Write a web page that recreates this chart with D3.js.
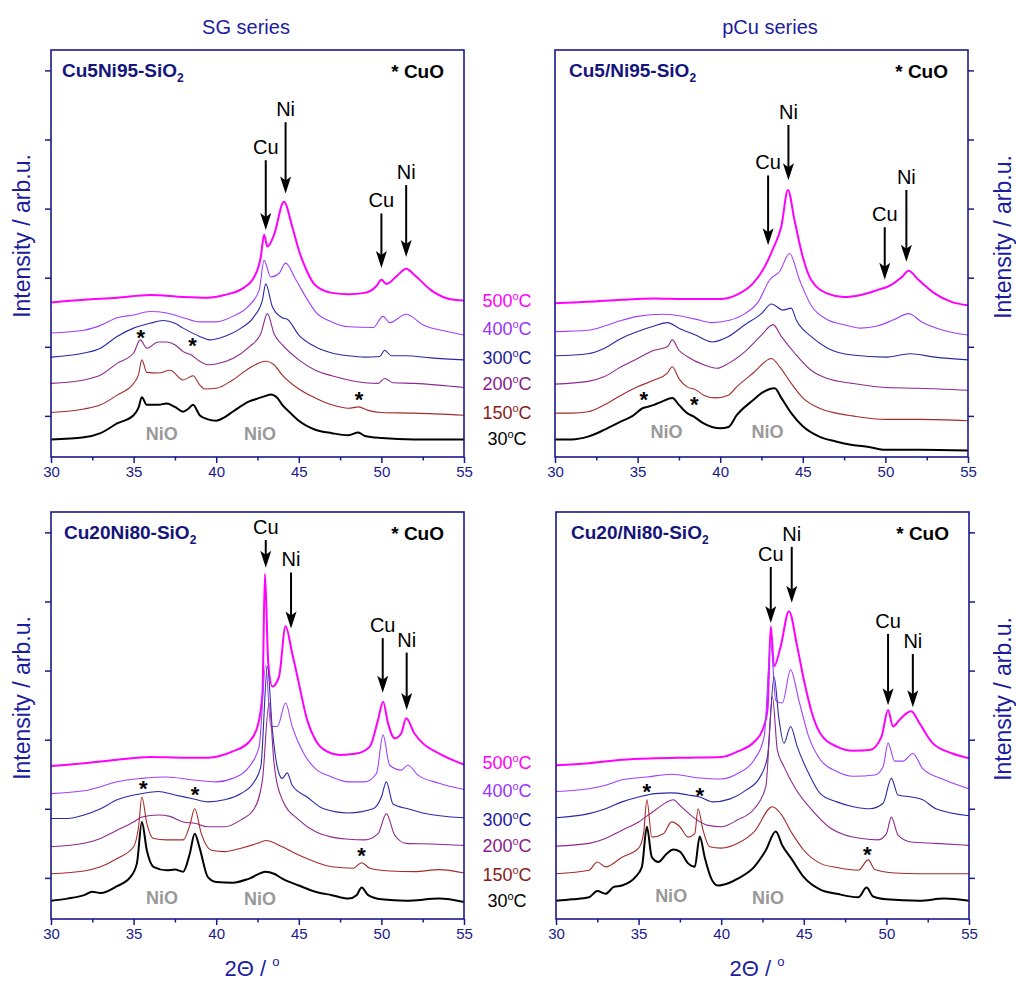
<!DOCTYPE html>
<html>
<head>
<meta charset="utf-8">
<script src="https://cdn.jsdelivr.net/npm/d3@7"></script>
<style>
  body { margin: 0; background: #fff; }
  svg { display: block; font-family: "Liberation Sans", Arial, sans-serif; }
</style>
</head>
<body>
<svg id="chart" width="1016" height="983"></svg>
<script>
// tick values
const xTicks = [30, 35, 40, 45, 50, 55];
const xMinor = [32.5, 37.5, 42.5, 47.5, 52.5];
const yTicks = [1, 2, 3, 4, 5, 6];
const temps = ["500", "400", "300", "200", "150", "30"];
const tempLabelY = [2.67, 2.26, 1.85, 1.47, 1.05, 0.67];

// SG series, Cu5Ni95-SiO2
const sg5_30 = [[30,0.66],[32,0.69],[33,0.75],[34,0.89],[35,1.01],[35.3,1.12],[35.5,1.27],[35.8,1.16],[36.5,1.16],[37,1.18],[37.5,1.13],[38,1.06],[38.3,1.10],[38.6,1.16],[39,1.01],[39.5,0.95],[40,0.93],[40.5,0.98],[41,1.06],[42,1.21],[42.5,1.25],[43,1.29],[43.3,1.31],[43.7,1.26],[44,1.16],[44.5,1.04],[45,0.93],[46,0.80],[47,0.75],[48,0.72],[48.6,0.76],[49,0.71],[50,0.68],[52,0.66],[55,0.66]];
const sg5_150 = [[30,1.05],[32,1.10],[33,1.16],[34,1.30],[35,1.47],[35.3,1.60],[35.5,1.81],[35.8,1.63],[36.5,1.62],[37.2,1.66],[38,1.52],[38.6,1.58],[39,1.45],[39.3,1.39],[40,1.40],[41,1.52],[42,1.69],[43,1.79],[43.5,1.74],[44,1.59],[45,1.39],[46,1.26],[47,1.16],[48,1.11],[48.6,1.13],[49.2,1.08],[50,1.05],[52,1.04],[55,1.01]];
const sg5_200 = [[30,1.47],[32,1.52],[33,1.59],[34,1.76],[35,1.91],[35.4,2.10],[35.8,1.98],[36.5,2.07],[37,2.07],[37.5,2.03],[38,1.93],[38.5,1.88],[39,1.79],[39.5,1.74],[40,1.75],[41,1.83],[42,2.00],[42.7,2.19],[43.1,2.48],[43.5,2.19],[44,2.03],[45,1.81],[46,1.66],[47,1.58],[48,1.52],[49,1.48],[49.8,1.47],[50.2,1.54],[50.7,1.48],[52,1.47],[55,1.41]];
const sg5_300 = [[30,1.85],[32,1.91],[33,1.98],[34,2.15],[35,2.27],[36,2.34],[36.8,2.38],[37.5,2.34],[38,2.27],[39,2.15],[39.6,2.10],[40.5,2.15],[41.5,2.27],[42.3,2.44],[42.8,2.68],[43.0,2.91],[43.4,2.58],[44,2.42],[44.3,2.40],[45,2.17],[46,2.00],[47,1.91],[48,1.87],[49,1.85],[49.9,1.86],[50.2,1.95],[50.6,1.87],[51.5,1.87],[53,1.84],[55,1.81]];
const sg5_400 = [[30,2.20],[32,2.24],[33,2.31],[34,2.42],[35,2.46],[36,2.51],[37,2.49],[38,2.42],[39,2.36],[40,2.36],[41,2.44],[42,2.60],[42.6,2.82],[42.9,3.25],[43.3,3.01],[43.8,3.06],[44.2,3.21],[44.8,2.98],[45.5,2.69],[46,2.51],[47,2.36],[48,2.29],[49.5,2.28],[50.1,2.44],[50.5,2.35],[51.5,2.47],[52.5,2.32],[54,2.22],[55,2.17]];
const sg5_500 = [[30,2.64],[32,2.68],[34,2.71],[36,2.75],[38,2.72],[39.5,2.71],[40.5,2.75],[41.5,2.83],[42.3,3.01],[42.7,3.30],[42.9,3.62],[43.1,3.45],[43.5,3.62],[44.1,4.10],[44.6,3.74],[45,3.40],[45.5,3.09],[46,2.89],[47,2.78],[48,2.76],[49,2.78],[49.7,2.88],[50.0,2.97],[50.3,2.91],[51,3.04],[51.5,3.13],[52,3.04],[53,2.82],[54,2.70],[55,2.67]];

// pCu series, Cu5/Ni95-SiO2
const pcu5_30 = [[30,0.66],[31,0.66],[32,0.70],[33,0.80],[34,0.92],[34.7,1.00],[35.3,1.11],[35.6,1.13],[36,1.16],[36.5,1.21],[37.1,1.26],[37.5,1.16],[38,1.04],[38.4,0.99],[39,0.89],[39.5,0.84],[40,0.82],[40.5,0.84],[41,1.01],[42,1.23],[42.5,1.33],[43.3,1.40],[43.7,1.26],[44.3,1.04],[45,0.85],[46,0.70],[47,0.63],[48,0.58],[49,0.55],[50,0.51],[52,0.51],[55,0.50]];
const pcu5_150 = [[30,1.04],[31,1.04],[32,1.06],[33,1.16],[34,1.30],[35,1.42],[36,1.52],[36.8,1.62],[37.1,1.71],[37.5,1.54],[38,1.42],[38.5,1.38],[39,1.30],[39.7,1.26],[40.5,1.30],[41,1.42],[42,1.62],[43.1,1.83],[43.6,1.71],[44.3,1.47],[45,1.26],[46,1.11],[47,1.04],[48,1.00],[50,0.95],[52,0.95],[55,0.93]];
const pcu5_200 = [[30,1.46],[32,1.50],[33,1.57],[34,1.71],[35,1.83],[36,1.95],[36.8,2.00],[37.1,2.10],[37.5,1.95],[38,1.86],[39,1.74],[39.8,1.69],[40.5,1.76],[41.5,1.93],[42.5,2.17],[43.2,2.32],[43.7,2.15],[44.5,1.91],[45.5,1.66],[46.5,1.54],[48,1.47],[50,1.41],[52,1.40],[55,1.37]];
const pcu5_300 = [[30,1.87],[32,1.90],[33,1.98],[34,2.12],[35,2.22],[36,2.30],[36.8,2.35],[37.5,2.27],[38.5,2.17],[39.5,2.07],[40.5,2.15],[41.5,2.32],[42.5,2.48],[43.1,2.62],[43.8,2.53],[44.3,2.56],[44.6,2.39],[45.5,2.15],[46.5,1.98],[48,1.88],[50,1.85],[51.5,1.90],[53,1.85],[55,1.81]];
const pcu5_400 = [[30,2.22],[32,2.24],[33,2.30],[34,2.38],[35,2.44],[36.5,2.47],[37.5,2.45],[38.5,2.40],[39.5,2.35],[40.5,2.38],[41.5,2.48],[42.3,2.65],[43,2.97],[43.6,3.09],[44.2,3.35],[44.8,2.97],[45.5,2.60],[46.5,2.39],[47.5,2.32],[48.5,2.27],[49.5,2.30],[50.5,2.39],[51.4,2.48],[52.2,2.36],[53.5,2.24],[55,2.17]];
const pcu5_500 = [[30,2.63],[32,2.65],[34,2.68],[36,2.70],[38,2.69],[40,2.69],[41,2.75],[42,2.92],[42.7,3.16],[43.2,3.42],[43.7,3.74],[44.1,4.27],[44.5,3.83],[45,3.30],[45.5,2.97],[46.5,2.77],[47.5,2.72],[48.5,2.75],[49.5,2.82],[50.3,2.89],[51,3.01],[51.4,3.10],[52,2.97],[53,2.77],[54,2.65],[55,2.60]];

// SG series, Cu20Ni80-SiO2
const sg20_30 = [[30,0.67],[31,0.70],[32,0.75],[32.5,0.80],[33,0.78],[34,0.88],[34.8,1.01],[35.2,1.21],[35.5,1.81],[35.8,1.40],[36.2,1.16],[37,1.11],[37.5,1.12],[38,1.09],[38.4,1.35],[38.7,1.64],[39,1.43],[39.5,1.01],[40,0.94],[41,0.93],[42,0.99],[43,1.09],[43.5,1.06],[44,0.99],[45,0.89],[46,0.80],[47,0.75],[48,0.70],[48.5,0.75],[48.8,0.86],[49.2,0.75],[50,0.69],[51.5,0.67],[53.5,0.70],[55,0.65]];
const sg20_150 = [[30,1.06],[32,1.10],[33,1.16],[34,1.28],[35,1.45],[35.3,1.74],[35.5,2.17],[35.8,1.79],[36.2,1.57],[37,1.55],[38,1.55],[38.4,1.76],[38.7,2.00],[39.1,1.64],[39.7,1.40],[40.5,1.38],[41.5,1.43],[42.5,1.50],[43,1.54],[44,1.45],[45,1.33],[46,1.23],[47,1.16],[48.3,1.14],[48.8,1.22],[49.3,1.14],[50.5,1.10],[52,1.09],[53.5,1.12],[55,1.07]];
const sg20_200 = [[30,1.45],[32,1.50],[33,1.57],[34,1.69],[35,1.81],[35.5,1.88],[36.5,1.91],[37.2,1.89],[38,1.81],[38.7,1.79],[39.5,1.74],[40.5,1.74],[41.5,1.84],[42.3,2.00],[42.8,2.42],[43.2,3.53],[43.5,2.66],[44,2.13],[45,1.84],[46,1.67],[47,1.59],[48,1.56],[49,1.55],[49.8,1.64],[50.3,1.93],[50.8,1.62],[51.5,1.50],[53,1.49],[55,1.47]];
const sg20_300 = [[30,1.86],[31,1.86],[32,1.91],[33,2.00],[34,2.13],[35.5,2.22],[36.5,2.25],[37.5,2.20],[38.5,2.15],[39.5,2.10],[40.5,2.13],[41.5,2.22],[42.3,2.39],[42.7,2.61],[43.1,4.06],[43.4,3.14],[43.8,2.51],[44.0,2.44],[44.3,2.52],[44.6,2.34],[45.5,2.17],[46.5,2.00],[48,1.94],[49.5,2.00],[50.0,2.17],[50.3,2.39],[50.7,2.07],[51.6,2.00],[52.5,1.94],[55,1.87]];
const sg20_400 = [[30,2.22],[32,2.26],[33,2.32],[34,2.39],[35.5,2.44],[37,2.46],[38.5,2.42],[40,2.39],[41,2.44],[42,2.61],[42.6,2.90],[43.0,4.08],[43.3,3.19],[43.7,3.19],[44.2,3.53],[44.6,3.19],[45.3,2.80],[46,2.58],[47,2.46],[48,2.39],[49,2.39],[49.7,2.51],[50.1,3.07],[50.5,2.63],[51.2,2.56],[51.6,2.63],[52.2,2.49],[53.5,2.37],[55,2.28]];
const sg20_500 = [[30,2.62],[32,2.66],[34,2.71],[36,2.75],[38,2.74],[39.5,2.74],[41,2.83],[42,2.97],[42.5,3.19],[42.8,3.67],[42.95,5.40],[43.15,4.11],[43.4,3.77],[43.8,3.91],[44.2,4.64],[44.6,4.25],[45,3.82],[45.5,3.29],[46,3.00],[46.5,2.86],[47.5,2.78],[48.5,2.80],[49.3,2.90],[49.8,3.29],[50.1,3.55],[50.4,3.24],[50.8,3.02],[51.2,3.09],[51.5,3.31],[52,3.09],[52.5,2.95],[53.5,2.80],[55,2.64]];

// pCu series, Cu20/Ni80-SiO2
const pcu20_30 = [[30,0.67],[31,0.69],[32,0.72],[32.5,0.81],[33,0.77],[33.5,0.87],[34,0.89],[34.8,1.01],[35.2,1.16],[35.5,1.74],[35.8,1.30],[36.2,1.23],[36.7,1.35],[37.1,1.41],[37.5,1.38],[38,1.21],[38.4,1.16],[38.7,1.60],[39,1.30],[39.4,0.99],[39.8,0.89],[40.5,0.93],[41,0.99],[42,1.16],[42.7,1.40],[43.3,1.67],[43.7,1.47],[44.3,1.26],[45,1.01],[46,0.83],[47,0.77],[48.3,0.72],[48.8,0.86],[49.2,0.73],[50,0.69],[52,0.67],[53.5,0.70],[55,0.67]];
const pcu20_150 = [[30,1.06],[32,1.11],[32.5,1.23],[33,1.16],[34,1.30],[35,1.43],[35.3,1.64],[35.5,2.13],[35.8,1.59],[36.5,1.64],[37,1.81],[37.5,1.74],[38,1.59],[38.4,1.64],[38.6,2.00],[38.9,1.69],[39.3,1.45],[40,1.43],[41,1.50],[42,1.67],[43.1,2.03],[43.6,1.93],[44.3,1.64],[45,1.40],[46,1.21],[47,1.15],[48.3,1.11],[48.9,1.26],[49.3,1.12],[50.5,1.07],[52,1.06],[55,1.06]];
const pcu20_200 = [[30,1.46],[32,1.50],[33,1.57],[34,1.69],[35,1.81],[36,1.98],[37.1,2.13],[37.5,2.05],[38.3,1.88],[39.2,1.76],[40,1.74],[41,1.84],[42,2.00],[42.7,2.32],[43.1,3.62],[43.4,2.85],[43.8,2.61],[44.5,2.29],[45.5,1.98],[46.5,1.74],[47.5,1.62],[48.5,1.57],[49.5,1.55],[50.0,1.64],[50.3,1.88],[50.7,1.62],[51.5,1.52],[53,1.50],[55,1.47]];
const pcu20_300 = [[30,1.87],[32,1.93],[33,2.00],[34,2.10],[35,2.17],[36,2.22],[37,2.23],[38,2.20],[38.7,2.17],[39.5,2.10],[40.5,2.14],[41.5,2.27],[42.3,2.44],[42.8,2.75],[43.2,3.91],[43.5,3.29],[43.8,2.95],[44.2,3.19],[44.6,2.90],[45.3,2.51],[46,2.22],[47,2.10],[48,2.03],[49,2.00],[49.8,2.08],[50.3,2.44],[50.7,2.20],[51.5,2.17],[52.2,2.13],[53,2.00],[55,1.90]];
const pcu20_400 = [[30,2.25],[32,2.29],[33,2.34],[34,2.42],[35.5,2.46],[37,2.50],[38.5,2.45],[40,2.43],[41,2.51],[42,2.71],[42.6,3.04],[43.0,4.40],[43.3,3.57],[43.7,3.53],[44.2,4.01],[44.7,3.57],[45.3,3.04],[46,2.71],[47,2.54],[48,2.47],[49.3,2.49],[49.8,2.61],[50.1,2.95],[50.5,2.69],[51,2.69],[51.6,2.80],[52.2,2.58],[53.5,2.42],[55,2.29]];
const pcu20_500 = [[30,2.63],[32,2.66],[34,2.71],[36,2.73],[38,2.74],[40,2.75],[41,2.83],[42,2.97],[42.5,3.14],[42.8,3.43],[43.0,4.64],[43.2,4.06],[43.6,4.35],[44.1,4.86],[44.6,4.35],[45,3.87],[45.5,3.38],[46,3.09],[47,2.90],[48,2.84],[49,2.85],[49.7,3.04],[50.1,3.43],[50.4,3.19],[50.8,3.29],[51.5,3.41],[52,3.24],[52.8,2.95],[54,2.80],[55,2.73]];

// annotations: peak arrows (name, x, arrow top, arrow tip), CuO stars, NiO labels
const sg5Arrows = [["Cu",43.0,4.70,3.69],["Ni",44.2,5.25,4.22],["Cu",50.0,3.93,3.14],["Ni",51.5,4.34,3.30]];
const pcu5Arrows = [["Cu",42.9,4.48,3.47],["Ni",44.13,5.21,4.41],["Cu",49.96,3.73,2.97],["Ni",51.27,4.27,3.23]];
const sg20Arrows = [["Cu",43.0,5.89,5.49],["Ni",44.53,5.42,4.61],["Cu",50.08,4.47,3.68],["Ni",51.53,4.26,3.43]];
const pcu20Arrows = [["Cu",43.0,5.50,4.69],["Ni",44.27,5.79,4.98],["Cu",50.1,4.53,3.50],["Ni",51.6,4.24,3.47]];
const sg5Stars = [[35.43,2.17],[38.56,2.05],[48.64,1.27]];
const pcu5Stars = [[35.38,1.27],[38.43,1.20]];
const sg20Stars = [[35.59,2.33],[38.72,2.24],[48.8,1.36]];
const pcu20Stars = [[35.5,2.29],[38.7,2.23],[48.85,1.37]];
const sg5NiO = [[36.7,0.74],[42.65,0.74]];
const pcu5NiO = [[36.75,0.77],[42.86,0.77]];
const sg20NiO = [[36.72,0.72],[42.65,0.70]];
const pcu20NiO = [[36.97,0.74],[42.83,0.72]];

const lineColors = { "500": "#ff00ff", "400": "#a040ff", "300": "#2a2aa8", "200": "#8e2a8e", "150": "#a52a2a", "30": "#000000" };
const labelColors = { "500": "#ff00ff", "400": "#9933ff", "300": "#1a1aa0", "200": "#8b1a8b", "150": "#8b1a1a", "30": "#000000" };
const navy = "#1a1a8c";
const PW = 413, PH = 407;

const svg = d3.select("#chart");

const panels = [
  { x: 51, y: 50, side: "left", name: "Cu5Ni95-SiO", series: [sg5_500, sg5_400, sg5_300, sg5_200, sg5_150, sg5_30], arrows: sg5Arrows, stars: sg5Stars, nio: sg5NiO },
  { x: 555, y: 50, side: "right", name: "Cu5/Ni95-SiO", series: [pcu5_500, pcu5_400, pcu5_300, pcu5_200, pcu5_150, pcu5_30], arrows: pcu5Arrows, stars: pcu5Stars, nio: pcu5NiO },
  { x: 51, y: 512, side: "left", name: "Cu20Ni80-SiO", series: [sg20_500, sg20_400, sg20_300, sg20_200, sg20_150, sg20_30], arrows: sg20Arrows, stars: sg20Stars, nio: sg20NiO },
  { x: 556, y: 512, side: "right", name: "Cu20/Ni80-SiO", series: [pcu20_500, pcu20_400, pcu20_300, pcu20_200, pcu20_150, pcu20_30], arrows: pcu20Arrows, stars: pcu20Stars, nio: pcu20NiO },
];

const x = d3.scaleLinear().domain([30, 55]).range([0, PW]);
const y = d3.scaleLinear().domain([0.405, 6.295]).range([PH, 0]);

panels.forEach(drawPanel);
drawLabels();

function drawPanel(p) {
  const g = svg.append("g").attr("transform", `translate(${p.x},${p.y})`);

  const line = d3.line()
    .x((d) => x(d[0]))
    .y((d) => y(d[1]))
    .curve(d3.curveMonotoneX);

  g.append("g")
    .selectAll("path")
    .data(p.series)
    .join("path")
    .attr("d", line)
    .attr("fill", "none")
    .attr("stroke", (d, i) => lineColors[temps[i]])
    .attr("stroke-width", (d, i) => (i == 0 || i == 5 ? 2 : 1.1))
    .attr("stroke-linejoin", "round");

  // frame
  g.append("rect")
    .attr("width", PW)
    .attr("height", PH)
    .attr("fill", "none")
    .attr("stroke", navy)
    .attr("stroke-width", 1.6);

  const xAxis = g.append("g")
    .attr("transform", `translate(0,${PH})`)
    .call(d3.axisBottom(x).tickValues(xTicks).tickSize(6).tickPadding(3));
  g.append("g")
    .attr("transform", `translate(0,${PH})`)
    .call(d3.axisBottom(x).tickValues(xMinor).tickSize(3.5).tickFormat(""));
  const yAx = p.side == "left" ? d3.axisLeft(y) : d3.axisRight(y);
  g.append("g")
    .attr("transform", `translate(${p.side == "left" ? 0 : PW},0)`)
    .call(yAx.tickValues(yTicks).tickSize(6).tickFormat(""));

  g.selectAll(".domain").remove();
  g.selectAll(".tick line").attr("stroke", navy).attr("stroke-width", 1.5);
  xAxis.selectAll("text")
    .attr("fill", navy)
    .attr("font-size", "15px")
    .attr("font-family", "Liberation Sans, Arial, sans-serif");

  // panel title
  const t = g.append("text")
    .attr("x", p.side == "left" ? 11 + (p.y > 100 ? 2 : 0) : 14 + (p.y > 100 ? 1 : 0))
    .attr("y", 27)
    .attr("fill", "#14147a")
    .attr("font-size", "19px")
    .attr("font-weight", "bold")
    .text(p.name);
  t.append("tspan").attr("font-size", "12px").attr("dy", 5).text("2");

  g.append("text")
    .attr("x", PW - 20)
    .attr("y", 28)
    .attr("text-anchor", "end")
    .attr("font-size", "19px")
    .attr("font-weight", "bold")
    .text("* CuO");

  // arrows
  const arr = g.append("g").selectAll("g").data(p.arrows).join("g");
  arr.append("line")
    .attr("x1", (d) => x(d[1]))
    .attr("x2", (d) => x(d[1]))
    .attr("y1", (d) => y(d[2]))
    .attr("y2", (d) => y(d[3]) - 10)
    .attr("stroke", "#000")
    .attr("stroke-width", 2);
  arr.append("path")
    .attr("d", (d) => {
      const tx = x(d[1]), ty = y(d[3]);
      return `M${tx},${ty} L${tx - 5.5},${ty - 17} L${tx},${ty - 13} L${tx + 5.5},${ty - 17} Z`;
    })
    .attr("fill", "#000");
  arr.append("text")
    .attr("x", (d) => x(d[1]))
    .attr("y", (d) => y(d[2]) - 6)
    .attr("text-anchor", "middle")
    .attr("font-size", "20px")
    .text((d) => d[0]);

  g.append("g")
    .selectAll("text")
    .data(p.stars)
    .join("text")
    .attr("x", (d) => x(d[0]))
    .attr("y", (d) => y(d[1]) + 10)
    .attr("text-anchor", "middle")
    .attr("font-size", "22px")
    .attr("font-weight", "bold")
    .text("*");

  g.append("g")
    .selectAll("text")
    .data(p.nio)
    .join("text")
    .attr("x", (d) => x(d[0]))
    .attr("y", (d) => y(d[1]))
    .attr("dy", "0.36em")
    .attr("text-anchor", "middle")
    .attr("font-size", "18px")
    .attr("font-weight", "bold")
    .attr("fill", "#999999")
    .text("NiO");
}

function drawLabels() {
  const axisBlue = "#1c1ca0";
  svg.append("text").attr("x", 246).attr("y", 34).attr("text-anchor", "middle")
    .attr("font-size", "20px").attr("fill", axisBlue).text("SG series");
  svg.append("text").attr("x", 770).attr("y", 34).attr("text-anchor", "middle")
    .attr("font-size", "20px").attr("fill", axisBlue).text("pCu series");

  [[22, 236], [22, 698], [1003, 237], [1003, 699]].forEach((c) => {
    svg.append("text")
      .attr("transform", `translate(${c[0]},${c[1]}) rotate(-90)`)
      .attr("text-anchor", "middle")
      .attr("dy", "0.35em")
      .attr("font-size", "23px")
      .attr("fill", axisBlue)
      .text("Intensity / arb.u.");
  });

  [252, 757].forEach((cx) => {
    const t = svg.append("text").attr("x", cx).attr("y", 976).attr("text-anchor", "middle")
      .attr("font-size", "22px").attr("fill", axisBlue).text("2\u0398 / ");
    t.append("tspan").attr("font-size", "13px").attr("dy", -10).text("o");
  });

  // temperature labels, placed on the left panels' scale
  [50, 512].forEach((top) => {
    const g = svg.append("g").attr("transform", `translate(507,${top})`);
    const lab = g.selectAll("text")
      .data(temps)
      .join("text")
      .attr("x", 0)
      .attr("y", (d, i) => y(tempLabelY[i]))
      .attr("dy", "0.36em")
      .attr("text-anchor", "middle")
      .attr("font-size", "18px")
      .attr("fill", (d) => labelColors[d])
      .text((d) => d);
    lab.append("tspan").attr("font-size", "11px").attr("dy", -7).text("o");
    lab.append("tspan").attr("dy", 7).text("C");
  });
}
</script>
</body>
</html>
